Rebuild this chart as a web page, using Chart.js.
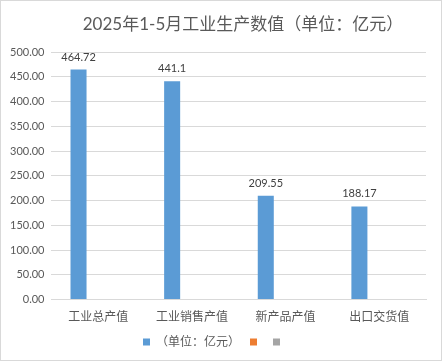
<!DOCTYPE html>
<html><head><meta charset="utf-8">
<script src="https://cdn.jsdelivr.net/npm/chart.js@4"></script>
<style>
html,body{margin:0;padding:0;background:#fff;}
#wrap{position:relative;width:440px;height:359px;border:1px solid #d9d9d9;}
</style></head>
<body><div id="wrap"><canvas id="c" width="440" height="359"></canvas></div>
<script>
const categories = ["工业总产值", "工业销售产值", "新产品产值", "出口交货值"];
const values = [464.72, 441.1, 209.55, 188.17];
const valueLabels = ["464.72", "441.1", "209.55", "188.17"];
const seriesNames = ["（单位：亿元）", "", ""];
const titleText = "2025年1-5月工业生产数值（单位：亿元）";
const yMin = 0, yMax = 500, yStep = 50;

const FONT = 'Lato, "Noto Sans CJK SC", sans-serif';
const labelPlugin = {
  id: 'valLabels',
  afterDatasetsDraw(chart) {
    const ctx = chart.ctx;
    const meta = chart.getDatasetMeta(0);
    ctx.save();
    ctx.font = '11px ' + FONT;
    ctx.fillStyle = '#404040';
    ctx.textAlign = 'center';
    ctx.textBaseline = 'bottom';
    meta.data.forEach((el, i) => {
      ctx.fillText(valueLabels[i], el.x, el.y - 7);
    });
    // title
    ctx.font = '17px ' + FONT;
    ctx.fillStyle = '#595959';
    ctx.textAlign = 'center';
    ctx.textBaseline = 'middle';
    ctx.fillText(titleText, 242, 24);
    ctx.restore();
  }
};

new Chart(document.getElementById('c'), {
  type: 'bar',
  data: {
    labels: categories,
    datasets: [
      {label: seriesNames[0], data: values, backgroundColor: '#5B9BD5'},
      {label: seriesNames[1], data: [], backgroundColor: '#ED7D31'},
      {label: seriesNames[2], data: [], backgroundColor: '#A5A5A5'}
    ]
  },
  options: {
    responsive: false,
    animation: false,
    categoryPercentage: 0.634,
    barPercentage: 0.81,
    layout: {padding: {left: 2, right: 15, top: 51, bottom: 2}},
    plugins: {
      title: {display: false},
      legend: {position: 'bottom', labels: {boxWidth: 7, boxHeight: 7, color: '#595959',
        font: {family: FONT, size: 12}, padding: 10}},
      tooltip: {enabled: false}
    },
    scales: {
      x: {grid: {display: false}, border: {display: true, color: '#d9d9d9'},
        ticks: {color: '#595959', font: {family: FONT, size: 12}, padding: 2}},
      y: {min: yMin, max: yMax, grid: {color: '#d9d9d9', drawTicks: false},
        border: {display: false},
        ticks: {stepSize: yStep, color: '#595959', font: {family: FONT, size: 11}, padding: 7,
          callback: v => Number(v).toFixed(2)}}
    }
  },
  plugins: [labelPlugin]
});
</script></body></html>
